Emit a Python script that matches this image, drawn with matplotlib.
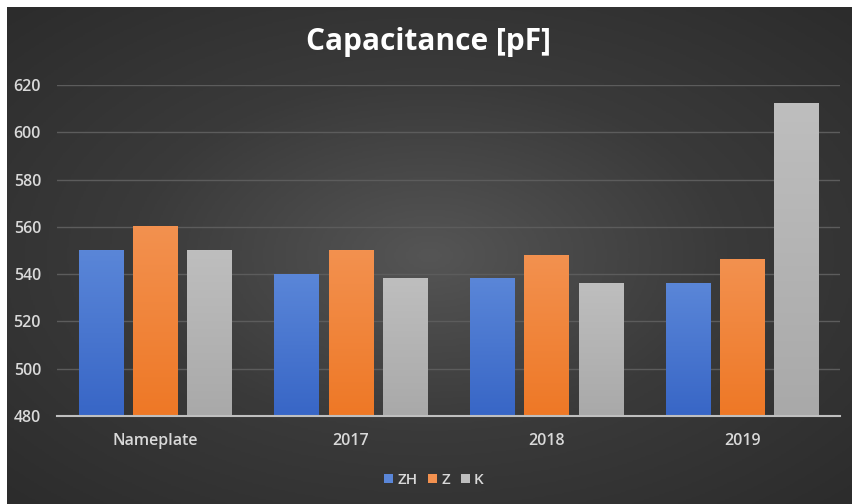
import numpy as np
import matplotlib.pyplot as plt
from matplotlib.colors import LinearSegmentedColormap

# dados
categories = ['Nameplate', '2017', '2018', '2019']
series_names = ['ZH', 'Z', 'K']
zh_values = [550, 540, 538, 536]
z_values = [560, 550, 548, 546]
k_values = [550, 538, 536, 612]
y_ticks = [480, 500, 520, 540, 560, 580, 600, 620]

# cores (topo, base) de cada serie
bar_colors = [('#5a86d8', '#3866c6'), ('#f3914f', '#ee7826'), ('#bebebe', '#a9a9a9')]
text_color = '#d9d9d9'

fig = plt.figure(figsize=(8.52, 5.04), dpi=100, facecolor='white')

# fundo com gradiente radial
bg = fig.add_axes([7 / 852, 0, 845 / 852, 497 / 504])
bg.set_axis_off()
yy, xx = np.mgrid[-1:1:300j, -1:1:500j]
r = np.sqrt(xx**2 + yy**2) / np.sqrt(2)
bg_cmap = LinearSegmentedColormap.from_list('bg', ['#555555', '#3a3a3a', '#2c2c2c'])
bg.imshow(r, cmap=bg_cmap, aspect='auto', extent=[0, 1, 0, 1], vmin=0, vmax=1)
bg.set_xlim(0, 1)
bg.set_ylim(0, 1)

ax = fig.add_axes([57 / 852, 88 / 504, 783 / 852, 331 / 504])
ax.patch.set_alpha(0)

n = len(series_names)
x = np.arange(len(categories))
width = 0.225
step = 0.277
all_values = [zh_values, z_values, k_values]

grad = np.linspace(0, 1, 100).reshape(-1, 1)
for i, (name, vals) in enumerate(zip(series_names, all_values)):
    top, bottom = bar_colors[i]
    cmap = LinearSegmentedColormap.from_list(name, [bottom, top])
    offs = (i - (n - 1) / 2) * step
    bars = ax.bar(x + offs, vals, width, bottom=0, color=top, label=name, zorder=2)
    for b in bars:
        x0, x1 = b.get_x(), b.get_x() + b.get_width()
        ax.imshow(grad, cmap=cmap, aspect='auto', origin='lower',
                  extent=[x0, x1, 480, b.get_height()], zorder=3)

ax.set_xlim(-0.5, len(categories) - 0.5)
ax.set_ylim(480, 620)
ax.set_yticks(y_ticks)
ax.set_xticks(x)
ax.set_xticklabels(categories)

ax.grid(axis='y', color='#5c5c5c', linewidth=1.0, zorder=0)
ax.set_axisbelow(True)
for s in ['top', 'right', 'left']:
    ax.spines[s].set_visible(False)
ax.spines['bottom'].set_color('#bfbfbf')
ax.spines['bottom'].set_linewidth(1.5)
ax.spines['bottom'].set_zorder(4)
ax.tick_params(axis='both', length=0, colors=text_color, labelsize=11.5)
ax.tick_params(axis='y', pad=11.5)
ax.tick_params(axis='x', pad=12)
for lab in ax.get_xticklabels() + ax.get_yticklabels():
    lab.set_family('Open Sans')
    lab.set_fontweight('semibold')

fig.text(0.5 + 3 / 852, 1 - 42 / 504, 'Capacitance [pF]', ha='center', va='center',
         fontsize=21.5, fontweight='bold', color='white', family='Open Sans')

leg = fig.legend(loc='center', bbox_to_anchor=(434 / 852, 1 - 480 / 504), ncol=3,
                 frameon=False, handlelength=0.6, handleheight=0.6, handletextpad=0.25,
                 columnspacing=0.72, borderpad=0,
                 prop={'family': 'Open Sans', 'size': 11, 'weight': 'semibold'})
for t in leg.get_texts():
    t.set_color(text_color)

fig.savefig('out.png', dpi=100, facecolor=fig.get_facecolor())
